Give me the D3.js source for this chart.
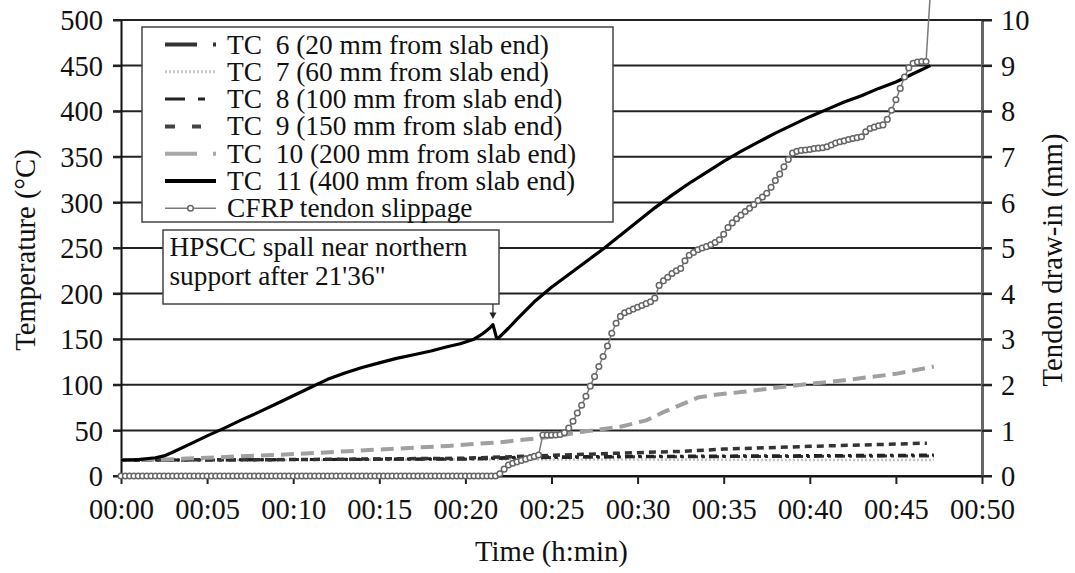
<!DOCTYPE html>
<html>
<head>
<meta charset="utf-8">
<script src="https://cdn.jsdelivr.net/npm/d3@7/dist/d3.min.js"></script>
<style>
  body { margin: 0; background: #fff; }
  svg text { font-family: "Liberation Serif", "Times New Roman", serif; fill: #111; white-space: pre; }
</style>
</head>
<body>
<svg id="chart" width="1075" height="573"></svg>
<script>
// ---- Thermocouple readings (minutes since ignition, °C) ----
const tc6Minutes = [0, 5, 10, 20, 24, 30, 40, 47.2];
const tc6Temp    = [17.5, 17.5, 18, 18.5, 20, 21, 21.5, 22];

const tc7Minutes = [0, 10, 20, 30, 40, 47.2];
const tc7Temp    = [17.5, 17.5, 18, 18, 17.5, 17.5];

const tc8Minutes = [0, 10, 20, 24, 35, 47.2];
const tc8Temp    = [17.5, 18, 19, 21, 22, 23];

const tc9Minutes = [0, 10, 20, 24, 28, 32.5, 35, 40, 44, 46.8];
const tc9Temp    = [17.5, 18, 19.5, 22, 24.5, 27, 29.5, 32.5, 34.5, 36];

const tc10Minutes = [0, 2.5, 5, 10, 15, 19, 22, 24, 25, 27, 29, 30.5, 31.5, 32.5, 33.5, 34.5, 36, 39, 42, 45, 47.2];
const tc10Temp    = [17.5, 18, 20, 24, 29, 33, 37, 41, 43, 49, 54, 61, 70, 78, 86, 89, 92, 99, 105, 112, 120];

const tc11Minutes = [0, 1, 2, 2.5, 3, 4, 5, 6, 7, 8, 9, 10, 11, 12, 13, 14, 15, 16, 17, 18, 19, 19.7,
                     20.5, 21, 21.4, 21.6, 21.8, 21.9, 22.5, 23, 24, 25, 26, 27, 28, 29, 30, 31, 32, 33,
                     34, 35, 36, 37, 38, 39, 40, 41, 42, 43, 44, 45, 46, 47];
const tc11Temp    = [17.5, 18, 20, 22, 26, 35, 44, 52.5, 61.5, 70, 79, 88, 97, 106, 113, 119, 124, 129, 133, 137, 142, 145,
                     150, 156, 162, 166, 152, 151, 162, 172, 191, 207, 221, 235, 249, 264, 279, 294, 308, 321,
                     333, 345, 356, 366, 376, 385, 394, 402, 410, 417, 425, 432, 441, 450];

// ---- CFRP tendon draw-in (mm), logged every 0.25 min from 00:00 ----
const slipStepMinutes = 0.25;
const slipMm = [
  0,0,0,0,0,0,0,0,0,0,0,0,0,0,0,0,0,0,0,0,0,0,
  0,0,0,0,0,0,0,0,0,0,0,0,0,0,0,0,0,0,0,0,0,0,
  0,0,0,0,0,0,0,0,0,0,0,0,0,0,0,0,0,0,0,0,0,0,
  0,0,0,0,0,0,0,0,0,0,0,0,0,0,0,0,0,0,0,0,0,0,
  0.05, 0.15, 0.24, 0.28, 0.31, 0.34, 0.37, 0.40, 0.43, 0.46,
  0.90, 0.90, 0.90, 0.90, 0.91, 0.95, 1.05, 1.20, 1.38, 1.55,
  1.75, 1.97, 2.18, 2.40, 2.62, 2.85, 3.13, 3.35, 3.50, 3.58,
  3.62, 3.66, 3.70, 3.74, 3.78, 3.82, 3.90, 4.18, 4.28, 4.36,
  4.44, 4.50, 4.55, 4.72, 4.84, 4.90, 4.96, 5.00, 5.03, 5.07,
  5.12, 5.18, 5.30, 5.45, 5.55, 5.64, 5.72, 5.80, 5.87, 5.95,
  6.04, 6.12, 6.20, 6.33, 6.48, 6.62, 6.78, 6.94, 7.08, 7.12,
  7.14, 7.15, 7.16, 7.18, 7.19, 7.20, 7.22, 7.26, 7.30, 7.33,
  7.35, 7.38, 7.40, 7.42, 7.44, 7.55, 7.62, 7.65, 7.68, 7.70,
  7.82, 8.02, 8.25, 8.50, 8.75, 8.95, 9.05, 9.08, 9.09, 9.09,
  10.6  // gauge ran off scale
];

// ---- Axis ticks and labels ----
const timeTicks = [0, 5, 10, 15, 20, 25, 30, 35, 40, 45, 50];
const timeTickLabels = ["00:00", "00:05", "00:10", "00:15", "00:20", "00:25", "00:30", "00:35", "00:40", "00:45", "00:50"];
const tempTicks = [0, 50, 100, 150, 200, 250, 300, 350, 400, 450, 500];
const slipTicks = [0, 1, 2, 3, 4, 5, 6, 7, 8, 9, 10];

const seriesLabels = [
  "TC  6 (20 mm from slab end)",
  "TC  7 (60 mm from slab end)",
  "TC  8 (100 mm from slab end)",
  "TC  9 (150 mm from slab end)",
  "TC  10 (200 mm from slab end)",
  "TC  11 (400 mm from slab end)",
  "CFRP tendon slippage"
];
const spallMinute = 21.6;   // 21'36"
const spallNote = ["HPSCC spall near northern", "support after 21'36\""];

// ---- Scales ----
const svg = d3.select("#chart");
const plotLeft = 121, plotRight = 982, plotTop = 20, plotBottom = 476;
const x = d3.scaleLinear().domain([0, 50]).range([plotLeft, plotRight]);
const yT = d3.scaleLinear().domain([0, 500]).range([plotBottom, plotTop]);
const yS = d3.scaleLinear().domain([0, 10]).range([plotBottom, plotTop]);

svg.append("rect").attr("width", 1075).attr("height", 573).attr("fill", "#fff");

// Horizontal gridlines (run through the tick marks on both sides)
svg.append("g").selectAll("line").data(tempTicks).join("line")
  .attr("x1", plotLeft - 8).attr("x2", plotRight + 10)
  .attr("y1", d => yT(d)).attr("y2", d => yT(d))
  .attr("stroke", "#222").attr("stroke-width", 2);

// Left axis
const gL = svg.append("g").attr("transform", `translate(${plotLeft},0)`)
  .call(d3.axisLeft(yT).tickValues(tempTicks).tickSize(8).tickSizeOuter(0).tickPadding(10));
gL.select(".domain").attr("stroke", "#111").attr("stroke-width", 2);
gL.selectAll(".tick line").attr("stroke", "#222").attr("stroke-width", 2);
gL.selectAll(".tick text").attr("font-size", 28.5).attr("dy", "0.34em").attr("fill", "#111");

// Right axis
const gR = svg.append("g").attr("transform", `translate(${plotRight},0)`)
  .call(d3.axisRight(yS).tickValues(slipTicks).tickSize(10).tickSizeOuter(0).tickPadding(9));
gR.select(".domain").attr("stroke", "#666").attr("stroke-width", 3);
gR.selectAll(".tick line").attr("stroke", "#222").attr("stroke-width", 2);
gR.selectAll(".tick text").attr("font-size", 28.5).attr("dy", "0.34em").attr("fill", "#111");

// Bottom axis
const gB = svg.append("g").attr("transform", `translate(0,${plotBottom})`)
  .call(d3.axisBottom(x).tickValues(timeTicks).tickFormat((d, i) => timeTickLabels[i]).tickSize(8).tickSizeOuter(0));
gB.select(".domain").attr("stroke", "#111").attr("stroke-width", 2);
gB.selectAll(".tick line").attr("stroke", "#222").attr("stroke-width", 2);
gB.selectAll(".tick text").attr("font-size", 28.5).attr("y", 43).attr("dy", 0).attr("fill", "#111");

// Axis titles
svg.append("text").attr("transform", "translate(35,250) rotate(-90)")
  .attr("text-anchor", "middle").attr("font-size", 28.7).text("Temperature (°C)");
svg.append("text").attr("transform", "translate(1062,260) rotate(-90)")
  .attr("text-anchor", "middle").attr("font-size", 28.7).text("Tendon draw-in (mm)");
svg.append("text").attr("x", (plotLeft + plotRight) / 2).attr("y", 561)
  .attr("text-anchor", "middle").attr("font-size", 28.7).text("Time (h:min)");

// ---- Series ----
const tempLine = d3.line().x(d => x(d[0])).y(d => yT(d[1]));
const pairs = (ts, vs) => ts.map((t, i) => [t, vs[i]]);

const tcSeries = [
  { pts: pairs(tc7Minutes, tc7Temp),   color: "#c4c4c4", width: 2.5, dash: "2,2" },
  { pts: pairs(tc6Minutes, tc6Temp),   color: "#333",    width: 3,   dash: "10,4,3,4" },
  { pts: pairs(tc8Minutes, tc8Temp),   color: "#222",    width: 3,   dash: "8,5,3,5" },
  { pts: pairs(tc9Minutes, tc9Temp),   color: "#333",    width: 3.5, dash: "7,5" },
  { pts: pairs(tc10Minutes, tc10Temp), color: "#a0a0a0", width: 4,   dash: "13,7" },
  { pts: pairs(tc11Minutes, tc11Temp), color: "#000",    width: 3.2, dash: null }
];
const gS = svg.append("g");
tcSeries.forEach(s => {
  gS.append("path").datum(s.pts).attr("d", tempLine)
    .attr("fill", "none").attr("stroke", s.color).attr("stroke-width", s.width)
    .attr("stroke-dasharray", s.dash).attr("stroke-linejoin", "round");
});

// Tendon slippage on the right axis
const slipPts = slipMm.map((v, i) => [i * slipStepMinutes, v]);
const slipLine = d3.line().x(d => x(d[0])).y(d => yS(d[1]));
gS.append("path").datum(slipPts).attr("d", slipLine)
  .attr("fill", "none").attr("stroke", "#7a7a7a").attr("stroke-width", 1.5);
gS.append("g").selectAll("circle").data(slipPts.filter(d => d[1] <= 10)).join("circle")
  .attr("cx", d => x(d[0])).attr("cy", d => yS(d[1])).attr("r", 2.8)
  .attr("fill", "#fff").attr("stroke", "#666").attr("stroke-width", 1.5);

// ---- Legend ----
const lg = svg.append("g");
lg.append("rect").attr("x", 142).attr("y", 27).attr("width", 471).attr("height", 195)
  .attr("fill", "#fff").attr("stroke", "#444").attr("stroke-width", 1.5);
const legendStyles = [
  { color: "#333",    width: 4, dash: "32,16,3,100" },
  { color: "#c8c8c8", width: 3, dash: "2,2" },
  { color: "#222",    width: 3, dash: "20,13,7,100" },
  { color: "#444",    width: 4, dash: "10,17,9,100" },
  { color: "#a8a8a8", width: 4, dash: "32,16,3,100" },
  { color: "#000",    width: 4, dash: null },
  { color: "#7a7a7a", width: 1.5, dash: null, marker: true }
];
seriesLabels.forEach((label, i) => {
  const cy = 44.5 + i * 27.3;
  const st = legendStyles[i];
  lg.append("line").attr("x1", 165).attr("x2", 216).attr("y1", cy).attr("y2", cy)
    .attr("stroke", st.color).attr("stroke-width", st.width).attr("stroke-dasharray", st.dash);
  if (st.marker) {
    lg.append("circle").attr("cx", 190.5).attr("cy", cy).attr("r", 2.8)
      .attr("fill", "#fff").attr("stroke", "#666").attr("stroke-width", 1.5);
  }
  lg.append("text").attr("x", 227).attr("y", cy + 9).attr("font-size", 27.4).text(label);
});

// ---- Spall annotation ----
const an = svg.append("g");
an.append("rect").attr("x", 163).attr("y", 230).attr("width", 336).attr("height", 74)
  .attr("fill", "#fff").attr("stroke", "#444").attr("stroke-width", 1.5);
spallNote.forEach((line, i) => {
  an.append("text").attr("x", 169.5).attr("y", 255.5 + i * 29).attr("font-size", 27.3).text(line);
});
const ax = x(spallMinute);
an.append("line").attr("x1", ax).attr("x2", ax).attr("y1", 304).attr("y2", 314)
  .attr("stroke", "#222").attr("stroke-width", 1.2);
an.append("path").attr("d", `M${ax - 3.5},312.5L${ax + 3.5},312.5L${ax},319Z`).attr("fill", "#222");
</script>
</body>
</html>
